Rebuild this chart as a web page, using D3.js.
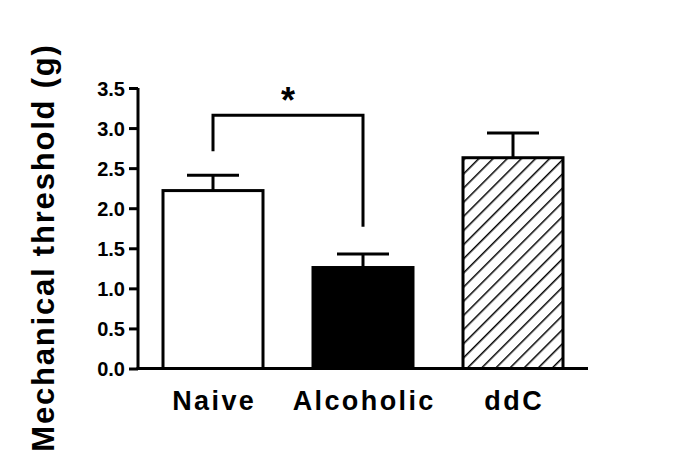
<!DOCTYPE html>
<html>
<head>
<meta charset="utf-8">
<script src="https://cdn.jsdelivr.net/npm/d3@7"></script>
<style>
  html, body { margin: 0; padding: 0; background: #fff; }
  svg { display: block; }
  text { font-family: Arial, "Liberation Sans", Helvetica, sans-serif; font-weight: bold; fill: #000; }
</style>
</head>
<body>
<svg id="chart" width="685" height="454"></svg>
<script>
const categories = ["Naive", "Alcoholic", "ddC"];
const means = [2.22, 1.26, 2.63];
const sems = [0.19, 0.17, 0.31];
const fills = ["white", "black", "hatch"];
const yTicks = [0, 0.5, 1.0, 1.5, 2.0, 2.5, 3.0, 3.5];
const yLabel = "Mechanical threshold (g)";
const sigPair = ["Naive", "Alcoholic"];
const sigLabel = "*";

(function () {
const svg = d3.select("#chart");
const mL = 138, mR = 588, mT = 88, mB = 368.5;

const y = d3.scaleLinear().domain([0, 3.5]).range([mB, mT]);
const x = d3.scaleBand().domain(categories).range([mL, mR])
  .paddingInner(1/3).paddingOuter(1/6);

// hatch pattern
const defs = svg.append("defs");
const pat = defs.append("pattern")
  .attr("id", "hatch").attr("patternUnits", "userSpaceOnUse")
  .attr("width", 10).attr("height", 10)
  .attr("patternTransform", "rotate(45)");
pat.append("rect").attr("width", 10).attr("height", 10).attr("fill", "white");
pat.append("line").attr("x1", 0).attr("y1", 0).attr("x2", 0).attr("y2", 10)
  .attr("stroke", "black").attr("stroke-width", 3);

const data = categories.map((c, i) => ({c, m: means[i], e: sems[i], f: fills[i]}));

// bars
svg.selectAll("rect.bar").data(data).enter().append("rect")
  .attr("class", "bar")
  .attr("x", d => x(d.c))
  .attr("width", x.bandwidth())
  .attr("y", d => y(d.m))
  .attr("height", d => y(0) - y(d.m))
  .attr("fill", d => d.f === "hatch" ? "url(#hatch)" : d.f)
  .attr("stroke", "black").attr("stroke-width", 3);

// error bars
const capW = 52;
const eb = svg.selectAll("g.err").data(data).enter().append("g").attr("class", "err");
eb.append("line")
  .attr("x1", d => x(d.c) + x.bandwidth()/2).attr("x2", d => x(d.c) + x.bandwidth()/2)
  .attr("y1", d => y(d.m)).attr("y2", d => y(d.m + d.e))
  .attr("stroke", "black").attr("stroke-width", 3);
eb.append("line")
  .attr("x1", d => x(d.c) + x.bandwidth()/2 - capW/2).attr("x2", d => x(d.c) + x.bandwidth()/2 + capW/2)
  .attr("y1", d => y(d.m + d.e)).attr("y2", d => y(d.m + d.e))
  .attr("stroke", "black").attr("stroke-width", 3);

// y axis
const yAxis = d3.axisLeft(y).tickValues(yTicks).tickFormat(d3.format(".1f"))
  .tickSize(9).tickPadding(4);
const gy = svg.append("g").attr("transform", `translate(${mL},0)`).call(yAxis);
gy.select(".domain").attr("stroke-width", 3).attr("d", `M0,${mT}V${mB}`);
gy.selectAll(".tick line").attr("stroke-width", 3);
gy.selectAll(".tick text").style("font-size", "20px").attr("dy", "0.36em");

// x axis
const xAxis = d3.axisBottom(x).tickSize(0).tickPadding(0);
const gx = svg.append("g").attr("transform", `translate(0,${mB})`).call(xAxis);
gx.select(".domain").attr("stroke-width", 3).attr("d", `M${mL - 1.5},0H${mR}`);
gx.selectAll(".tick text").style("font-size", "27px").style("letter-spacing", "2.4px")
  .attr("dy", 0).attr("y", 41).attr("dx", "1.2px");

// y label
svg.append("text")
  .attr("transform", `translate(54,${(44 + 451) / 2}) rotate(-90)`)
  .attr("text-anchor", "middle")
  .style("font-size", "31px").style("letter-spacing", "1.8px")
  .text(yLabel);

// significance bracket
const xa = x(sigPair[0]) + x.bandwidth()/2, xb = x(sigPair[1]) + x.bandwidth()/2;
const iA = categories.indexOf(sigPair[0]), iB = categories.indexOf(sigPair[1]);
const yTopB = y(3.16);
svg.append("path")
  .attr("d", `M${xa},${y(means[iA] + sems[iA] + 0.3)}V${yTopB}H${xb}V${y(means[iB] + sems[iB] + 0.34)}`)
  .attr("fill", "none").attr("stroke", "black").attr("stroke-width", 3);
svg.append("text")
  .attr("x", (xa + xb) / 2).attr("y", 113)
  .attr("text-anchor", "middle").style("font-size", "36px")
  .text(sigLabel);
})();
</script>
</body>
</html>
